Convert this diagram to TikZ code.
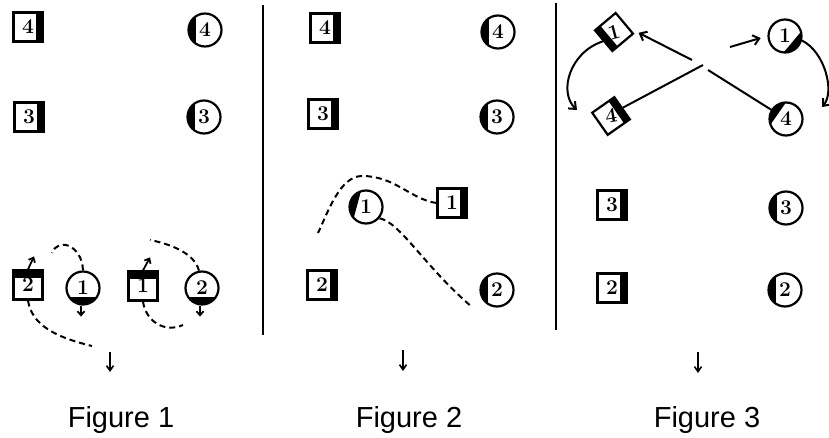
\documentclass[tikz,border=0pt]{standalone}
\usepackage{fontspec}
\newfontfamily\labfont{Liberation Sans}
\usetikzlibrary{arrows.meta}
\newcommand\numfont{\fontsize{21}{21}\selectfont\bfseries}
% black bar on a square: node, direction of the bar side
\newcommand\sqbar[2]{\fill[shift={(#1.center)},rotate=#2] (7.5,-14.5) rectangle (14.5,14.5);}
% black segment in a circle: node, direction of the black side
\newcommand\cseg[3][9]{\begin{scope}\clip (#2.center) circle (16.5pt);\fill[shift={(#2.center)},rotate=#3] (#1,-20) rectangle (20,20);\end{scope}}
\begin{document}
\begin{tikzpicture}[x=1pt,y=1pt,
  sq/.style={draw, fill=white, line width=2.2pt, minimum size=29pt, inner sep=0pt, font=\numfont},
  ci/.style={circle, draw, fill=white, line width=2.2pt, minimum size=33pt, inner sep=0pt, font=\numfont},
  dl/.style={line width=2pt, dash pattern=on 6pt off 4pt},
  sa/.style={line width=1.8pt, -{Straight Barb[length=4pt,width=7pt]}},
  fl/.style={line width=2pt},
  ar/.style={line width=2pt, -{Straight Barb[length=6pt,width=10pt]}},
  da/.style={line width=1.6pt, -{Straight Barb[length=5pt,width=7pt]}},
  lab/.style={anchor=base, font=\labfont\fontsize{29}{29}\selectfont}]
\useasboundingbox (0,0) rectangle (829,437);
% dividers
\draw[line width=2.4pt] (263,432) -- (263,102);
\draw[line width=2.4pt] (556,434) -- (556,107);
% ---------- Figure 1 ----------
\node[sq] (s4a) at (28,410) {4}; \sqbar{s4a}{0}
\node[ci] (c4a) at (205,407) {4}; \cseg{c4a}{180}
\node[sq] (s3a) at (29,320) {3}; \sqbar{s3a}{0}
\node[ci] (c3a) at (204,320) {3}; \cseg{c3a}{180}
\node[sq] (s2a) at (28,152) {2}; \sqbar{s2a}{90}
\node[ci] (c1a) at (83,149) {1}; \cseg{c1a}{-90}
\node[sq] (s1a) at (143,151) {1}; \sqbar{s1a}{90}
\node[ci] (c2a) at (202,149) {2}; \cseg{c2a}{-90}
\draw[sa] (s2a.north) -- ++(6,13);
\draw[sa] (s1a.north) -- ++(7,13);
\draw[sa] ([xshift=-2pt]c1a.south) -- ++(0,-11);
\draw[sa] ([xshift=-2pt]c2a.south) -- ++(0,-11);
\coordinate (d1e) at (52,184);
\draw[dl] (c1a.north) .. controls (82,192) and (58,200) .. (d1e);
\coordinate (d2e) at (92,91);
\draw[dl] (s2a.south) .. controls (32,112) and (55,100) .. (d2e);
\coordinate (d3e) at (150,197);
\draw[dl] (c2a.100) .. controls (195,182) and (175,192) .. (d3e);
\coordinate (d4e) at (183,112);
\draw[dl] (s1a.south) .. controls (146,115) and (165,104) .. (d4e);
\coordinate (a1) at (110,85);
\draw[da] (a1) -- ++(0,-20);
\node[lab] (f1) at (121,10) {Figure 1};
% ---------- Figure 2 ----------
\node[sq] (s4b) at (325,409) {4}; \sqbar{s4b}{0}
\node[ci] (c4b) at (498,405) {4}; \cseg{c4b}{180}
\node[sq] (s3b) at (323,323) {3}; \sqbar{s3b}{0}
\node[ci] (c3b) at (497,320) {3}; \cseg{c3b}{180}
\node[ci] (c1b) at (366,230) {1}; \cseg{c1b}{165}
\node[sq] (s1b) at (452,234) {1}; \sqbar{s1b}{0}
\node[sq] (s2b) at (322,152) {2}; \sqbar{s2b}{0}
\node[ci] (c2b) at (497,147) {2}; \cseg{c2b}{180}
\coordinate (e1) at (318,204);
\draw[dl] (s1b.west) .. controls (410,238) and (395,261) .. (362,261) .. controls (340,261) and (328,225) .. (e1);
\coordinate (e2) at (472,130);
\draw[dl] (c1b.-40) .. controls (400,215) and (425,170) .. (e2);
\coordinate (a2) at (403,87);
\draw[da] (a2) -- ++(0,-21);
\node[lab] (f2) at (409,10) {Figure 2};
% ---------- Figure 3 ----------
\node[sq, rotate=40, minimum size=27pt] (s1c) at (614,405) {\rotatebox{-25}{1}};
\fill[shift={(s1c.center)},rotate=220] (6.5,-13.5) rectangle (13.5,13.5);
\node[ci] (c1c) at (785,401) {1}; \cseg[9.5]{c1c}{-40}
\node[sq, rotate=35, minimum size=27pt] (s4c) at (611,321) {\rotatebox{-25}{4}};
\fill[shift={(s4c.center)},rotate=35] (6.5,-13.5) rectangle (13.5,13.5);
\node[ci] (c4c) at (786,318) {4}; \cseg[9.5]{c4c}{145}
\node[sq] (s3c) at (612,232) {3}; \sqbar{s3c}{0}
\node[ci] (c3c) at (786,229) {3}; \cseg{c3c}{180}
\node[sq] (s2c) at (612,149) {2}; \sqbar{s2c}{0}
\node[ci] (c2c) at (785,147) {2}; \cseg{c2c}{180}
\coordinate (xa) at (703,372);
\coordinate (xb) at (708,367);
\coordinate (ya) at (730,390);
\coordinate (yb) at (692,377);
\draw[fl] (s4c.east) -- (xa);
\draw[fl] (c4c.148) -- (xb);
\draw[ar] (yb) -- ([shift={(4,1)}]s1c.south east);
\draw[ar, shorten >=7pt] (ya) -- (c1c.west);
\coordinate (la) at (577,327);
\draw[ar] (s1c.west) .. controls (570,385) and (558,345) .. (la);
\coordinate (ra) at (822,330);
\draw[ar] (c1c.-15) .. controls (825,385) and (835,345) .. (ra);
\coordinate (a3) at (698,85);
\draw[da] (a3) -- ++(0,-21);
\node[lab] (f3) at (707,10) {Figure 3};
\end{tikzpicture}
\end{document}
